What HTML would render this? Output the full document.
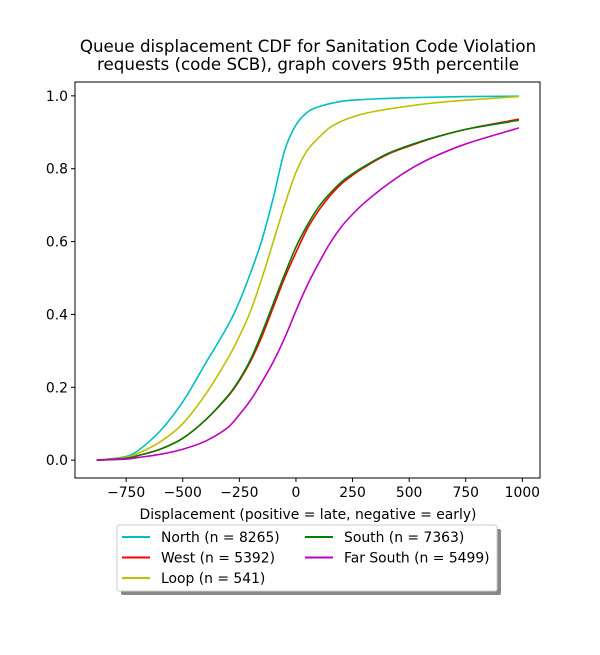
<!DOCTYPE html>
<html><head><meta charset="utf-8">
<style>
body{margin:0;background:#fff;font-family:"Liberation Sans","DejaVu Sans",sans-serif;}
svg text{font-family:"DejaVu Sans","Liberation Sans",sans-serif;}
</style></head>
<body>
<svg id="chart" width="600" height="650" xmlns="http://www.w3.org/2000/svg">
<rect width="600" height="650" fill="#fff"/>
<text x="308" y="52" font-size="16.7" text-anchor="middle">Queue displacement CDF for Sanitation Code Violation</text>
<text x="308" y="70" font-size="16.7" text-anchor="middle">requests (code SCB), graph covers 95th percentile</text>
<g id="plot"></g>
<text x="308" y="519" font-size="13.9" text-anchor="middle">Displacement (positive = late, negative = early)</text>
<g>
<rect x="121" y="529" width="380" height="66" fill="#888" rx="2"/>
<rect x="117" y="525" width="380" height="66" fill="#fff" stroke="#ccc" rx="2"/>
<g id="legend-items"></g>
</g>
</svg>
<script>
const xsNorth=[-880,-750,-700,-600,-500,-400,-300,-250,-200,-150,-100,-50,0,50,100,200,300,500,750,985];
const north=[0,0.01,0.025,0.08,0.16,0.265,0.37,0.435,0.515,0.605,0.72,0.85,0.92,0.955,0.97,0.985,0.99,0.995,0.998,0.999];
const xsAll=[-880,-750,-700,-600,-500,-400,-300,-250,-200,-150,-100,-50,0,50,100,150,200,250,300,400,500,600,750,985];
const loop=[0,0.008,0.018,0.05,0.1,0.18,0.28,0.34,0.41,0.5,0.6,0.7,0.79,0.85,0.885,0.913,0.93,0.942,0.951,0.963,0.972,0.98,0.988,0.998];
const west=[0,0.005,0.012,0.03,0.06,0.11,0.175,0.218,0.272,0.34,0.42,0.5,0.57,0.635,0.685,0.725,0.758,0.782,0.803,0.838,0.862,0.883,0.908,0.936];
const south=[0,0.005,0.012,0.03,0.06,0.11,0.177,0.221,0.277,0.35,0.43,0.51,0.585,0.645,0.695,0.732,0.763,0.786,0.806,0.84,0.864,0.884,0.908,0.933];
const farSouth=[0,0.003,0.007,0.016,0.03,0.052,0.09,0.125,0.165,0.215,0.27,0.335,0.41,0.48,0.54,0.595,0.64,0.675,0.705,0.755,0.797,0.83,0.868,0.912];
const xTicks=[-750,-500,-250,0,250,500,750,1000];
const yTicks=[0,0.2,0.4,0.6,0.8,1.0];
const series=[
 {name:"North (n = 8265)",xs:xsNorth,ys:north,color:"#00bfbf",key:"north"},
 {name:"West (n = 5392)",xs:xsAll,ys:west,color:"#ff0000",key:"west"},
 {name:"Loop (n = 541)",xs:xsAll,ys:loop,color:"#bfbf00",key:"loop"},
 {name:"South (n = 7363)",xs:xsAll,ys:south,color:"#008000",key:"south"},
 {name:"Far South (n = 5499)",xs:xsAll,ys:farSouth,color:"#bf00bf",key:"far-south"}
];
const L=75,R=540,T=82,B=478;
const xmin=-976,xmax=1078,ymin=-0.049,ymax=1.038;
const sx=v=>L+(v-xmin)/(xmax-xmin)*(R-L);
const sy=v=>B-(v-ymin)/(ymax-ymin)*(B-T);
const NS="http://www.w3.org/2000/svg";
const plot=document.getElementById('plot');
function mk(tag,attrs,parent){const e=document.createElementNS(NS,tag);for(const k in attrs)e.setAttribute(k,attrs[k]);parent.appendChild(e);return e;}
["north","loop","west","south","far-south"].forEach(k=>{
 const s=series.find(q=>q.key===k);
 const pts=s.xs.map((x,i)=>[sx(x),sy(s.ys[i])]);
 let d="M"+pts[0][0]+","+pts[0][1];
 for(let i=0;i<pts.length-1;i++){
  const p0=pts[Math.max(0,i-1)],p1=pts[i],p2=pts[i+1],p3=pts[Math.min(pts.length-1,i+2)];
  const h=p2[0]-p1[0];
  const m1=(p2[1]-p0[1])/(p2[0]-p0[0]||1), m2=(p3[1]-p1[1])/(p3[0]-p1[0]||1);
  const c1=[p1[0]+h/3,p1[1]+m1*h/3];
  const c2=[p2[0]-h/3,p2[1]-m2*h/3];
  d+=` C${c1[0]},${c1[1]} ${c2[0]},${c2[1]} ${p2[0]},${p2[1]}`;
 }
 const p=mk('path',{d:d,fill:"none",stroke:s.color,"stroke-width":1.6},plot);
 
 
});
const frame=mk('rect',{x:L,y:T,width:R-L,height:B-T,fill:"none",stroke:"#000","stroke-width":1},plot);


xTicks.forEach(v=>{
 const x=sx(v);
 mk('line',{x1:x,x2:x,y1:B,y2:B+4,stroke:"#000"},plot);
 const t=mk('text',{x:x,y:B+19,"font-size":13.9,"text-anchor":"middle"},plot);
 t.textContent=v<0?"\u2212"+Math.abs(v):String(v);
 
 
});
yTicks.forEach(v=>{
 const y=sy(v);
 mk('line',{x1:L-4,x2:L,y1:y,y2:y,stroke:"#000"},plot);
 const t=mk('text',{x:L-7,y:y+5,"font-size":13.9,"text-anchor":"end"},plot);
 t.textContent=v.toFixed(1);
 
 
});
const lg=document.getElementById('legend-items');
series.forEach((s,i)=>{
 const col=i<3?0:1,row=i<3?i:i-3;
 const x0=col?305:122,y0=537+row*20.5;
 mk('line',{x1:x0,x2:x0+28,y1:y0,y2:y0,stroke:s.color,"stroke-width":2},lg);
 const t=mk('text',{x:x0+39,y:y0+5,"font-size":13.9},lg);
 t.textContent=s.name;
 
 
});
</script>
</body></html>
